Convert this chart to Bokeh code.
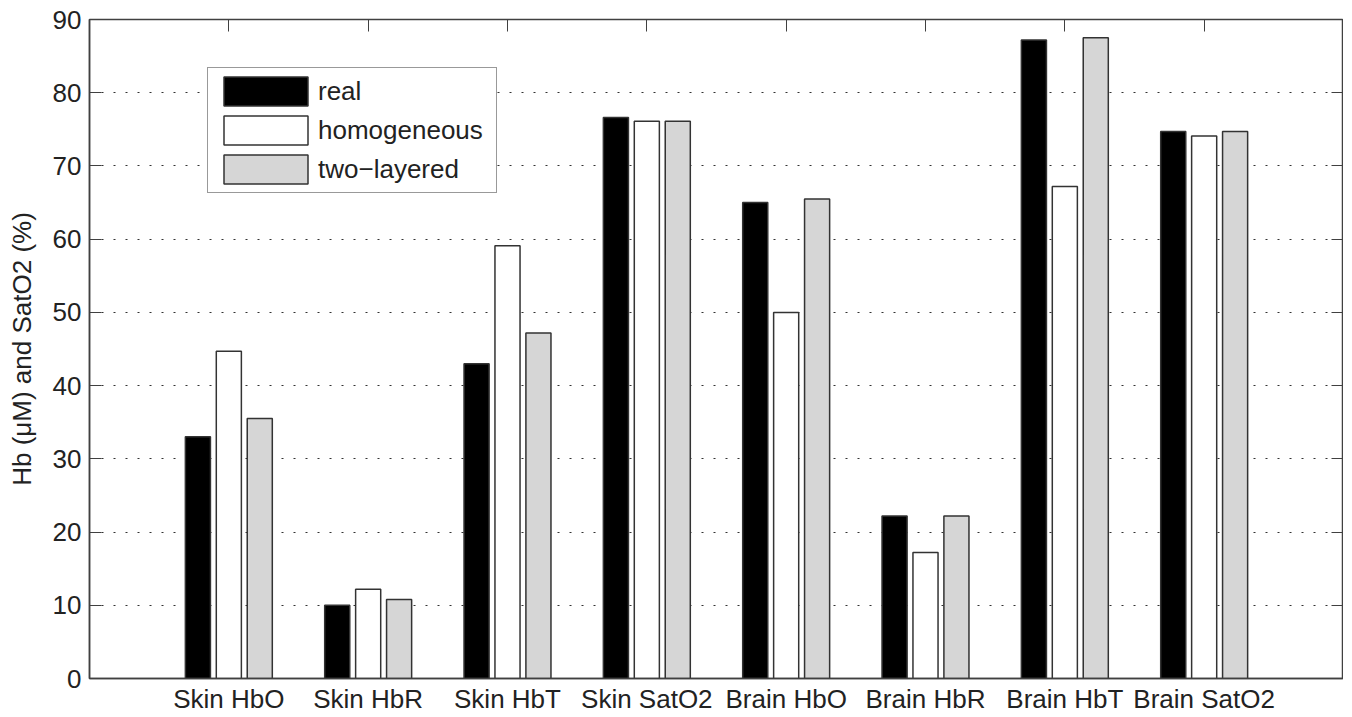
from bokeh.plotting import figure
from bokeh.models import Range1d, FixedTicker, LinearAxis, ColumnDataSource, CustomLabelingPolicy
from bokeh.embed import file_html
from bokeh.resources import INLINE

categories = ["Skin HbO", "Skin HbR", "Skin HbT", "Skin SatO2",
              "Brain HbO", "Brain HbR", "Brain HbT", "Brain SatO2"]
real = [33.0, 10.0, 43.0, 76.6, 65.0, 22.2, 87.2, 74.7]
homogeneous = [44.7, 12.2, 59.1, 76.1, 50.0, 17.2, 67.2, 74.1]
two_layered = [35.5, 10.8, 47.2, 76.1, 65.5, 22.2, 87.5, 74.7]
series_names = ["real", "homogeneous", "two\u2212layered"]
series_values = [real, homogeneous, two_layered]
series_colors = ["#000000", "#ffffff", "#d6d6d6"]
y_ticks = [0, 10, 20, 30, 40, 50, 60, 70, 80, 90]

FONT = "Liberation Sans"
AXC = "#404040"
TXT = "#222222"

x_pos = [i + 1 for i in range(len(categories))]

p = figure(frame_width=1254, frame_height=659, x_range=Range1d(0, 9), y_range=Range1d(0, 90),
           output_backend="svg", toolbar_location=None,
           min_border_left=89, min_border_right=0, min_border_top=19, min_border_bottom=0)
p.background_fill_color = "white"
p.border_fill_color = "white"
p.outline_line_color = AXC
p.outline_line_width = 1.5

offsets = [-0.222, 0.0, 0.222]
for name, vals, col, off in zip(series_names, series_values, series_colors, offsets):
    src = ColumnDataSource(dict(x=[x + off for x in x_pos], top=vals))
    p.vbar(x="x", top="top", width=0.18, bottom=0, source=src,
           fill_color=col, line_color="#333333", line_width=1.5, legend_label=name)

# bottom axis
p.xaxis.ticker = FixedTicker(ticks=x_pos)
p.xaxis.major_label_overrides = {x: c for x, c in zip(x_pos, categories)}
p.xaxis.major_tick_in = 0
p.xaxis.major_tick_out = 0
p.xaxis.minor_tick_line_color = None
p.xaxis.axis_line_color = AXC
p.xaxis.axis_line_width = 1.5
p.xaxis.major_label_text_font = FONT
p.xaxis.major_label_text_font_size = "26px"
p.xaxis.major_label_text_color = TXT
p.xaxis.major_label_standoff = 5

# left axis
p.yaxis.ticker = FixedTicker(ticks=y_ticks)
p.yaxis.major_tick_in = 12
p.yaxis.major_tick_out = 0
p.yaxis.major_tick_line_color = AXC
p.yaxis.minor_tick_line_color = None
p.yaxis.axis_line_color = AXC
p.yaxis.axis_line_width = 1.5
p.yaxis.major_label_text_font = FONT
p.yaxis.major_label_text_font_size = "26px"
p.yaxis.major_label_text_color = TXT
p.yaxis.major_label_standoff = 8
p.yaxis.axis_label = "Hb (\u03bcM) and SatO2 (%)"
p.yaxis.axis_label_text_font = FONT
p.yaxis.axis_label_text_font_size = "26px"
p.yaxis.axis_label_text_font_style = "normal"
p.yaxis.axis_label_text_color = TXT
p.yaxis.axis_label_standoff = 13

# top and right axes: ticks only, no labels
no_labels = CustomLabelingPolicy(code="return []")
top_ax = LinearAxis(ticker=FixedTicker(ticks=x_pos), major_tick_in=12, major_tick_out=0,
                    major_label_text_font_size="0px", minor_tick_line_color=None,
                    axis_line_color=AXC, major_tick_line_color=AXC, major_label_standoff=0,
                    major_label_policy=no_labels)
p.add_layout(top_ax, "above")
right_ax = LinearAxis(ticker=FixedTicker(ticks=y_ticks), major_tick_in=12, major_tick_out=0,
                      major_label_text_font_size="0px", minor_tick_line_color=None,
                      axis_line_color=AXC, major_tick_line_color=AXC, major_label_standoff=0,
                      major_label_policy=CustomLabelingPolicy(code="return []"))
p.add_layout(right_ax, "right")

# grid
p.xgrid.visible = False
p.ygrid.ticker = FixedTicker(ticks=y_ticks[1:-1])
p.ygrid.grid_line_color = "#333333"
p.ygrid.grid_line_dash = "2 10"
p.ygrid.grid_line_width = 1

# legend
lg = p.legend[0]
lg.location = (118, 485)
lg.padding = 5
lg.margin = 0
lg.spacing = 3
lg.glyph_width = 105
lg.glyph_height = 36
lg.label_height = 36
lg.label_width = 173
lg.label_standoff = 0
lg.label_text_font = FONT
lg.label_text_font_size = "26px"
lg.label_text_color = TXT
lg.border_line_color = "#333333"
lg.border_line_width = 1.5
lg.background_fill_color = "white"
lg.background_fill_alpha = 1.0

open("out.html", "w").write(file_html(p, INLINE))
